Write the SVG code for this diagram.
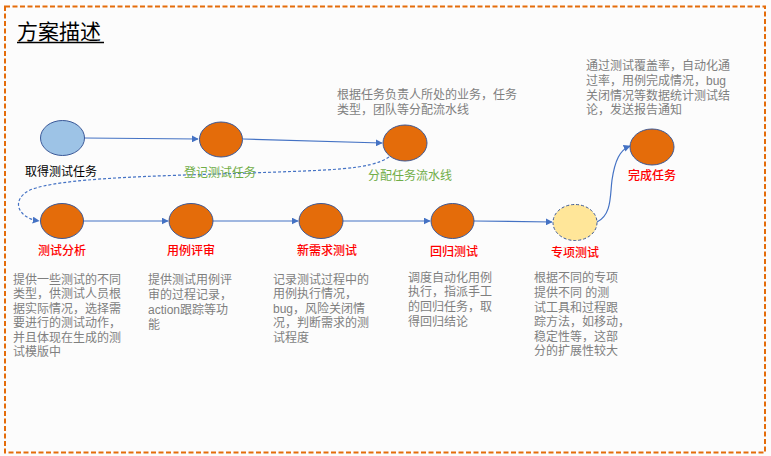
<svg xmlns="http://www.w3.org/2000/svg" width="771" height="456" viewBox="0 0 771 456">
<defs>
<marker id="ah" viewBox="0 0 10 10" refX="9" refY="5" markerWidth="7" markerHeight="7" markerUnits="userSpaceOnUse" orient="auto"><path d="M0,0 L10,5 L0,10 z" fill="#4472C4"/></marker>
<style>
text{font-family:"Liberation Sans","Noto Sans CJK SC",sans-serif;}
.or{fill:#E46C0A;stroke:#3B5998;stroke-width:1;}
.lbl{font-size:12px;text-anchor:middle;}
.red{fill:#FF0000;font-weight:500;}
.grn{fill:#70AD47;}
.desc{font-size:12px;fill:#7F7F7F;}
.cn{fill:none;stroke:#4472C4;stroke-width:1.2;marker-end:url(#ah);}
</style>
</defs>
<rect x="0" y="0" width="771" height="456" fill="#FCFCFC"/>
<rect x="5" y="6.5" width="760" height="446" fill="none" stroke="#E46C0A" stroke-width="2" stroke-dasharray="5,2.5"/>
<g id="title">
<text x="17" y="39" font-size="21" fill="#000">方案描述</text>
<line x1="17" y1="42.5" x2="104" y2="42.5" stroke="#000" stroke-width="1.5"/>
</g>
<g id="connectors">
<path class="cn" d="M84,138 L198,139"/>
<path class="cn" d="M243,139 L382,143"/>
<path class="cn" d="M389,157 C370,170 330,170 250,173 C150,176 60,178 30,190 C10,200 18,218 39,221" stroke-dasharray="3,2"/>
<path class="cn" d="M83,221 L168,221"/>
<path class="cn" d="M213,221 L298,221"/>
<path class="cn" d="M343,221 L430,221"/>
<path class="cn" d="M474,221 L552,222"/>
<path class="cn" d="M597,222 C612,215 610,195 612,180 C615,160 620,150 630,146"/>
</g>
<g id="n1">
<ellipse cx="62.5" cy="138" rx="22" ry="17.5" fill="#9DC3E6" stroke="#3B5998" stroke-width="1"/>
<text class="lbl" x="61" y="176" fill="#000">取得测试任务</text>
</g>
<g id="n2">
<ellipse class="or" cx="221" cy="139.5" rx="21.5" ry="17.5"/>
<text class="lbl grn" x="220" y="177">登记测试任务</text>
</g>
<g id="n3">
<ellipse class="or" cx="405" cy="143" rx="22" ry="18"/>
<text class="lbl grn" x="410" y="180">分配任务流水线</text>
<text class="desc" x="337" y="98.5">根据任务负责人所处的业务，任务</text>
<text class="desc" x="337" y="113.5">类型，团队等分配流水线</text>
</g>
<g id="n4">
<ellipse class="or" cx="652" cy="147" rx="22" ry="18"/>
<text class="lbl red" x="652" y="180">完成任务</text>
<text class="desc" x="586" y="69.5">通过测试覆盖率，自动化通</text>
<text class="desc" x="586" y="84.5">过率，用例完成情况，bug</text>
<text class="desc" x="586" y="99.5">关闭情况等数据统计测试结</text>
<text class="desc" x="586" y="114">论，发送报告通知</text>
</g>
<g id="n5">
<ellipse class="or" cx="62" cy="221" rx="21.5" ry="17.5"/>
<text class="lbl red" x="62" y="255">测试分析</text>
<text class="desc" x="13" y="283.5">提供一些测试的不同</text>
<text class="desc" x="13" y="298">类型，供测试人员根</text>
<text class="desc" x="13" y="312.5">据实际情况，选择需</text>
<text class="desc" x="13" y="327">要进行的测试动作，</text>
<text class="desc" x="13" y="341.5">并且体现在生成的测</text>
<text class="desc" x="13" y="356">试模版中</text>
</g>
<g id="n6">
<ellipse class="or" cx="191" cy="221" rx="22" ry="17.5"/>
<text class="lbl red" x="191" y="255">用例评审</text>
<text class="desc" x="148" y="283.5">提供测试用例评</text>
<text class="desc" x="148" y="298.5">审的过程记录，</text>
<text class="desc" x="148" y="313.5">action跟踪等功</text>
<text class="desc" x="148" y="328.5">能</text>
</g>
<g id="n7">
<ellipse class="or" cx="321" cy="221" rx="22" ry="17.5"/>
<text class="lbl red" x="327" y="255">新需求测试</text>
<text class="desc" x="273" y="283.5">记录测试过程中的</text>
<text class="desc" x="273" y="298">用例执行情况，</text>
<text class="desc" x="273" y="312.5">bug，风险关闭情</text>
<text class="desc" x="273" y="327">况，判断需求的测</text>
<text class="desc" x="273" y="341.5">试程度</text>
</g>
<g id="n8">
<ellipse class="or" cx="452.5" cy="221" rx="21.5" ry="17.5"/>
<text class="lbl red" x="454" y="256">回归测试</text>
<text class="desc" x="408" y="281.5">调度自动化用例</text>
<text class="desc" x="408" y="296">执行，指派手工</text>
<text class="desc" x="408" y="311">的回归任务，取</text>
<text class="desc" x="408" y="325.5">得回归结论</text>
</g>
<g id="n9">
<ellipse cx="575" cy="222.5" rx="22" ry="18" fill="#FFE699" stroke="#3B5998" stroke-width="1" stroke-dasharray="3,2"/>
<text class="lbl red" x="575" y="257">专项测试</text>
<text class="desc" x="534" y="281.5">根据不同的专项</text>
<text class="desc" x="534" y="296.5">提供不同 的测</text>
<text class="desc" x="534" y="311.5">试工具和过程跟</text>
<text class="desc" x="534" y="326">踪方法，如移动，</text>
<text class="desc" x="534" y="340.5">稳定性等，这部</text>
<text class="desc" x="534" y="355">分的扩展性较大</text>
</g>
</svg>
